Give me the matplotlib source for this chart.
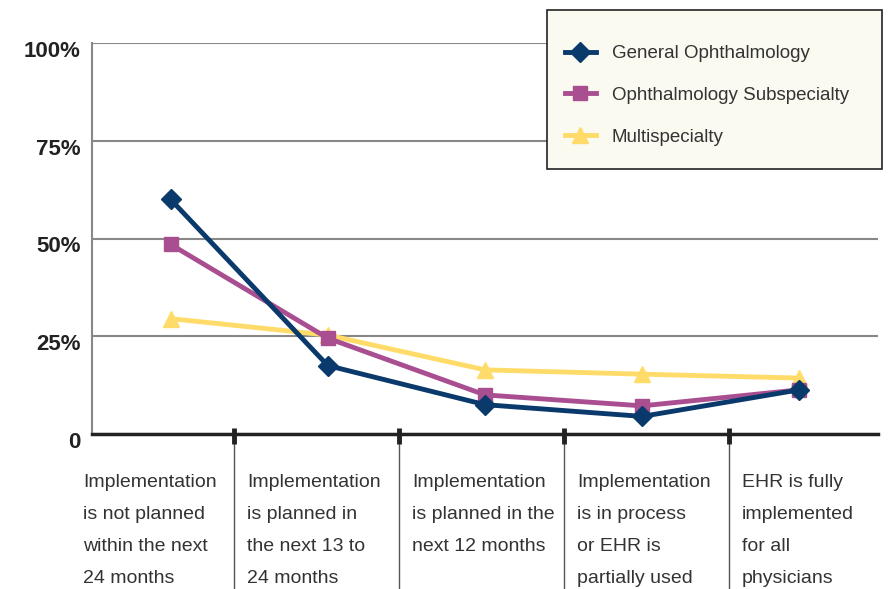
import matplotlib
matplotlib.use('Agg')
import matplotlib.pyplot as plt
from matplotlib.patches import Rectangle
from matplotlib.transforms import ScaledTranslation

plt.rcParams['font.family'] = ['Liberation Sans', 'DejaVu Sans']

stages = [
    'Implementation\nis not planned\nwithin the next\n24 months',
    'Implementation\nis planned in\nthe next 13 to\n24 months',
    'Implementation\nis planned in the\nnext 12 months',
    'Implementation\nis in process\nor EHR is\npartially used',
    'EHR is fully\nimplemented\nfor all\nphysicians',
]
general = [60, 17.5, 7.5, 4.5, 11.3]
subspecialty = [48.5, 24.5, 10, 7.2, 11.3]
multispecialty = [29.5, 25.3, 16.4, 15.3, 14.3]
yticks = [0, 25, 50, 75, 100]
ytick_labels = ['0', '25%', '50%', '75%', '100%']

fig = plt.figure(figsize=(8.88, 5.89), dpi=100)
ax = fig.add_axes([92 / 888, 155 / 589, 786 / 888, 391 / 589])

x = range(len(stages))
ax.plot(x, general, '-D', color='#0a3a6c', lw=3.5, ms=10, label='General Ophthalmology', zorder=5)
ax.plot(x, subspecialty, '-s', color='#a94f91', lw=3.5, ms=10, label='Ophthalmology Subspecialty', zorder=4)
ax.plot(x, multispecialty, '-^', color='#ffdc6a', lw=3.5, ms=11, label='Multispecialty', zorder=3)

ax.set_xlim(-0.5, 4.5)
ax.set_ylim(0, 100)
ax.set_yticks(yticks)
ax.set_yticklabels(ytick_labels, fontsize=16, fontweight='bold', color='#222222')
ax.tick_params(axis='y', length=0, pad=8)
shift = ScaledTranslation(0, -6 / 100, fig.dpi_scale_trans)
for lab in ax.get_yticklabels():
    lab.set_transform(lab.get_transform() + shift)
ax.set_xticks([])
ax.grid(axis='y', color='#888888', lw=1.5)
ax.set_axisbelow(True)
for s in ['top', 'right']:
    ax.spines[s].set_visible(False)
ax.spines['left'].set_color('#888888')
ax.spines['left'].set_linewidth(1.5)
ax.spines['bottom'].set_color('#222222')
ax.spines['bottom'].set_linewidth(2.5)

# category cells below the axis
seps = [(234 - 92) / 786, (399 - 92) / 786, (564 - 92) / 786, (729 - 92) / 786]
for s in seps:
    ax.plot([s, s], [-10 / 391, -155 / 391], color='#555555', lw=1, transform=ax.transAxes, clip_on=False)
    ax.plot([s, s], [6 / 391, -10 / 391], color='#222222', lw=3.5, transform=ax.transAxes,
            clip_on=False, solid_capstyle='butt')
label_x = [-9 / 786] + [s + 13 / 786 for s in seps]
for lx, txt in zip(label_x, stages):
    ax.text(lx, -40 / 391, txt, transform=ax.transAxes, ha='left', va='top',
            fontsize=14, color='#333333', linespacing=2.16)

# legend box drawn separately so its padding can match
ax.add_patch(Rectangle((455 / 786, 265 / 391), 335 / 786, 159 / 391, transform=ax.transAxes,
                       facecolor='#fafaf0', edgecolor='#222222', lw=1.2, clip_on=False, zorder=6))
leg = ax.legend(loc='upper left', bbox_to_anchor=(473 / 786, 389 / 391), frameon=False,
                fontsize=13.5, borderpad=0, labelspacing=1.32, handlelength=1.65,
                handletextpad=0.85, borderaxespad=0)
leg.set_zorder(7)
for t in leg.get_texts():
    t.set_color('#333333')

fig.savefig('out.png', dpi=100)
